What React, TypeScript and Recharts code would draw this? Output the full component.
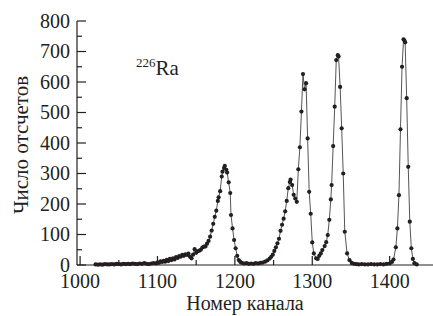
import { LineChart, Line, XAxis, YAxis, Customized } from 'recharts'

// номер канала
const channels = [
  1020, 1023, 1026, 1029, 1032, 1035, 1038, 1041, 1044, 1047, 1050, 1053, 1056, 1059, 1062, 1065,
  1068, 1071, 1074, 1077, 1080, 1083, 1086, 1089, 1092, 1095, 1098,
  1100, 1102, 1104, 1106, 1108, 1110, 1112, 1114, 1116, 1118, 1120, 1122, 1124, 1126, 1128, 1130,
  1132, 1134, 1136, 1138, 1140, 1142, 1144, 1146, 1148, 1150, 1152, 1154, 1156, 1158, 1160, 1162,
  1164, 1166, 1168, 1170, 1172, 1174, 1176, 1178, 1179, 1181, 1183, 1184, 1186, 1187, 1189, 1190,
  1192, 1194, 1195, 1197, 1199, 1201, 1203, 1205, 1207, 1209, 1212, 1215, 1218, 1221, 1224, 1227,
  1230, 1233, 1236, 1239, 1242, 1245, 1247, 1249, 1251, 1253, 1255, 1257, 1259, 1261, 1263, 1265,
  1267, 1269, 1271, 1272, 1274, 1276, 1278, 1280, 1282, 1284, 1286, 1288, 1290, 1292, 1294, 1296,
  1298, 1300, 1302, 1305, 1307, 1309, 1311, 1313, 1316, 1318, 1320, 1322, 1324, 1325, 1327, 1329,
  1331, 1333, 1334, 1336, 1338, 1340, 1342, 1345, 1348, 1351, 1354, 1357, 1360, 1364, 1368, 1372,
  1376, 1380, 1384, 1388, 1392, 1396, 1400, 1403, 1405, 1408, 1410, 1412, 1414, 1416, 1418, 1419,
  1420, 1422, 1424, 1426, 1428, 1430, 1432, 1435,
]

// число отсчетов
const counts = [
  2, 1, 2, 1, 3, 2, 2, 3, 2, 4, 3, 2, 4, 3, 4, 3,
  5, 4, 3, 5, 4, 6, 4, 3, 5, 6, 5,
  9, 7, 12, 10, 14, 11, 17, 13, 20, 16, 22, 18, 26, 23, 29, 27,
  33, 30, 35, 33, 37, 27, 22, 34, 52, 40, 45, 47, 50, 57, 60, 61,
  70, 79, 93, 113, 135, 158, 178, 210, 222, 242, 290, 306, 318, 325, 312, 303,
  271, 236, 164, 120, 82, 55, 30, 16, 10, 7, 5, 6, 4, 5, 4, 6,
  5, 7, 8, 11, 15, 21, 27, 34, 46, 58, 71, 86, 112, 132, 152, 176,
  210, 252, 272, 280, 262, 230, 218, 207, 314, 386, 503, 626, 576, 596, 415, 240,
  168, 74, 38, 22, 20, 30, 38, 49, 62, 75, 98, 148, 215, 262, 390, 519,
  672, 688, 684, 584, 448, 300, 109, 38, 16, 7, 4, 3, 2, 3, 2, 2,
  3, 2, 2, 3, 2, 4, 5, 10, 18, 58, 120, 229, 445, 650, 740, 736,
  730, 547, 322, 142, 55, 20, 6, 2,
]

const xTicks = [1000, 1050, 1100, 1150, 1200, 1250, 1300, 1350, 1400]
const yTicks = [0, 50, 100, 150, 200, 250, 300, 350, 400, 450, 500, 550, 600, 650, 700, 750, 800]

const data = channels.map((ch, i) => ({ ch, n: counts[i] }))

const INK = '#231f20'
const FONT = '"Liberation Serif", "DejaVu Serif", serif'

function XTick(props: any) {
  const { x, y, payload } = props
  const major = payload.value % 100 === 0
  return (
    <g>
      <line x1={x} x2={x} y1={y} y2={y - (major ? 9 : 5)} stroke={INK} strokeWidth={1.2} />
      {major && (
        <text x={x} y={y + 23} textAnchor="middle" fontFamily={FONT} fontSize={20} fill={INK}>
          {payload.value}
        </text>
      )}
    </g>
  )
}

function YTick(props: any) {
  const { x, y, payload } = props
  const major = payload.value % 100 === 0
  return (
    <g>
      <line x1={x} x2={x + (major ? 9 : 5)} y1={y} y2={y} stroke={INK} strokeWidth={1.2} />
      {major && (
        <text x={x - 7} y={y} dy="0.33em" textAnchor="end" fontFamily={FONT} fontSize={20} fill={INK}>
          {payload.value}
        </text>
      )}
    </g>
  )
}

function Texts() {
  return (
    <g fontFamily={FONT} fill={INK}>
      <text transform="translate(28,145) rotate(-90)" textAnchor="middle" fontSize={21}>
        Число отсчетов
      </text>
      <text x={245} y={310} textAnchor="middle" fontSize={20}>
        Номер канала
      </text>
      <text x={136} y={75} fontSize={21}>
        <tspan fontSize={13} dy={-8}>226</tspan>
        <tspan dy={8}>Ra</tspan>
      </text>
    </g>
  )
}

export default function App() {
  return (
    <div style={{ position: 'absolute', left: 0, top: 0, background: '#fff' }}>
      <LineChart width={433} height={316} data={data} margin={{ top: 21, right: 0, bottom: 0, left: 0 }}>
        <XAxis
          type="number"
          dataKey="ch"
          domain={[996, 1456]}
          ticks={xTicks}
          allowDataOverflow
          height={51}
          tickSize={0}
          tickMargin={0}
          tick={<XTick />}
          axisLine={{ stroke: INK, strokeWidth: 1.2 }}
          tickLine={false}
          interval={0}
        />
        <YAxis
          type="number"
          domain={[0, 800]}
          ticks={yTicks}
          width={77}
          tickSize={0}
          tickMargin={0}
          tick={<YTick />}
          axisLine={{ stroke: INK, strokeWidth: 1.2 }}
          tickLine={false}
          interval={0}
        />
        <Line
          type="linear"
          dataKey="n"
          stroke="#555"
          strokeWidth={1}
          dot={{ r: 2.1, fill: INK, stroke: 'none' }}
          activeDot={false}
          isAnimationActive={false}
        />
        <Customized component={Texts} />
      </LineChart>
    </div>
  )
}
